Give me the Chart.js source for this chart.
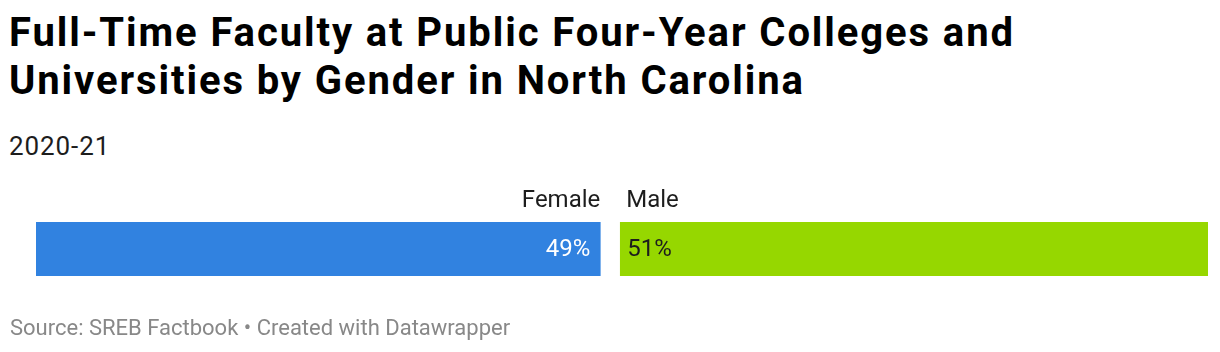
<!DOCTYPE html>
<html>
<head>
<meta charset="utf-8">
<script src="https://cdn.jsdelivr.net/npm/chart.js@4"></script>
<style>
  html, body { margin: 0; padding: 0; background: #fff; }
  body { width: 1220px; height: 352px; position: relative; overflow: hidden; font-family: Roboto, "Noto Sans", sans-serif; }
  #title { position: absolute; left: 9px; top: 9px; font-size: 40px; font-weight: 700; line-height: 48px; color: #000; letter-spacing: 1.9px; white-space: nowrap; }
  #subtitle { position: absolute; left: 9px; top: 130px; font-size: 26px; line-height: 32px; color: #1d1d1d; letter-spacing: 0.9px; }
  #footer { position: absolute; left: 10px; top: 315px; font-size: 22px; line-height: 26px; color: #888; }
  #wrap { position: absolute; left: 0; top: 180px; width: 1220px; height: 138px; }
</style>
</head>
<body>
<div id="title">Full-Time Faculty at Public Four-Year Colleges and<br>Universities by Gender in North Carolina</div>
<div id="subtitle">2020-21</div>
<div id="wrap"><canvas id="c"></canvas></div>
<div id="footer">Source: SREB Factbook • Created with Datawrapper</div>
<script>
const categories = ["2020-21"];
const seriesNames = ["Female", "Male"];
const femaleValues = [49];
const maleValues = [51];
const seriesColors = ["#3182e0", "#96d700"];
const valueColors = ["#ffffff", "#1d1d1d"];

const labelPlugin = {
  id: 'labels',
  afterDatasetsDraw(chart) {
    const ctx = chart.ctx;
    ctx.save();
    chart.data.datasets.forEach((ds, i) => {
      const meta = chart.getDatasetMeta(i);
      meta.data.forEach((el, j) => {
        const left = Math.min(el.x, el.base);
        const right = Math.max(el.x, el.base);
        const top = el.y - el.height / 2;
        const val = ds.data[j] + '%';
        ctx.font = '24px Roboto';
        if (i === 0) {
          ctx.textBaseline = 'alphabetic';
          ctx.fillStyle = '#1d1d1d';
          ctx.textAlign = 'right';
          ctx.fillText(ds.label, right - 10, top - 15);
          ctx.fillStyle = valueColors[0];
          ctx.textBaseline = 'middle';
          ctx.fillText(val, right - 20, el.y + 1);
        } else {
          ctx.textBaseline = 'alphabetic';
          ctx.fillStyle = '#1d1d1d';
          ctx.textAlign = 'left';
          ctx.fillText(ds.label, left + 16, top - 15);
          ctx.fillStyle = valueColors[1];
          ctx.textBaseline = 'middle';
          ctx.fillText(val, left + 17, el.y + 1);
        }
      });
    });
    ctx.restore();
  }
};

new Chart(document.getElementById('c'), {
  type: 'bar',
  data: {
    labels: categories,
    datasets: [
      { label: seriesNames[0], data: femaleValues, backgroundColor: seriesColors[0],
        borderColor: '#ffffff', borderWidth: { left: 0, right: 10, top: 0, bottom: 0 }, borderSkipped: false, barThickness: 54 },
      { label: seriesNames[1], data: maleValues, backgroundColor: seriesColors[1],
        borderColor: '#ffffff', borderWidth: { left: 10, right: 0, top: 0, bottom: 0 }, borderSkipped: false, barThickness: 54 }
    ]
  },
  options: {
    indexAxis: 'y',
    responsive: true,
    maintainAspectRatio: false,
    animation: false,
    events: [],
    layout: { padding: { left: 36, right: 12, top: 0, bottom: 0 } },
    plugins: { legend: { display: false }, tooltip: { enabled: false } },
    scales: {
      x: { stacked: true, display: false, min: 0, max: 100 },
      y: { stacked: true, display: false }
    }
  },
  plugins: [labelPlugin]
});
</script>
</body>
</html>
